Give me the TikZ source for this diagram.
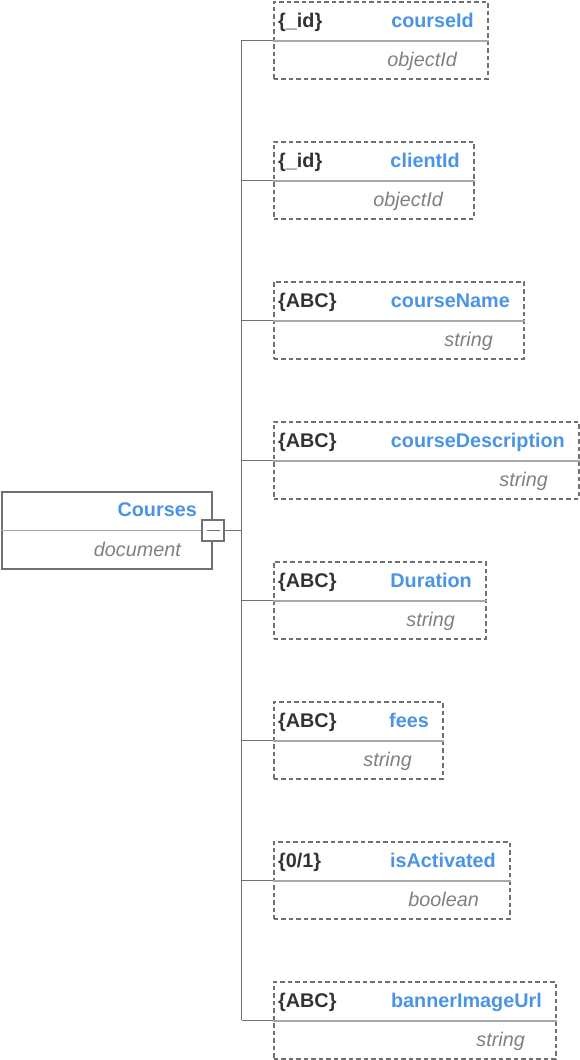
\documentclass[tikz,border=0pt]{standalone}
\usepackage{fontspec}
\setmainfont{Liberation Sans}
\definecolor{boxgray}{HTML}{707070}
\definecolor{divgray}{HTML}{A8A8A8}
\definecolor{namblue}{HTML}{4A94E6}
\definecolor{darktxt}{HTML}{333333}
\definecolor{typegray}{HTML}{808080}
\newcommand{\myzeroone}{\{0/1\}}
\tikzset{
  fieldbox/.style={draw=boxgray, line width=1.8pt, dash pattern=on 4.5pt off 3pt, anchor=north west, minimum height=77pt, inner sep=0pt},
  rootbox/.style={draw=boxgray, line width=1.8pt, anchor=north west, minimum height=77pt, minimum width=210pt, inner sep=0pt},
  divline/.style={draw=divgray, line width=1.8pt},
  wire/.style={draw=boxgray, line width=1.8pt},
  tagtxt/.style={font=\fontsize{19.8}{23}\selectfont\bfseries, text=darktxt, anchor=base west, inner sep=0pt},
  nametxt/.style={font=\fontsize{19.8}{23}\selectfont\bfseries, text=namblue, anchor=base east, inner sep=0pt},
  typetxt/.style={font=\fontsize{19.8}{23}\selectfont\itshape, text=typegray, anchor=base east, inner sep=0pt},
}
\begin{document}
\begin{tikzpicture}[x=1pt,y=-1pt]
\useasboundingbox (0,0) rectangle (580,1060);
% root
\node[rootbox] (root) at (1,491) {};
\draw[divline] (root.west) -- (root.east);
\node[nametxt] (rootname) at (197,516) {Courses};
\node[typetxt] (roottype) at (181,556) {document};
\node[draw=boxgray, line width=1.8pt, fill=white, minimum width=22pt, minimum height=21pt, inner sep=0pt] (minus) at (213,530.5) {};
\draw[draw=boxgray, line width=1.8pt] ([xshift=-6.5pt]minus.center) -- ([xshift=6.5pt]minus.center);
% trunk
\coordinate (ttop) at (241.5,40);
\coordinate (tbot) at (241.5,1020);
\draw[wire] (ttop) -- (tbot);
\draw[wire] (minus.east) -- (minus.east -| ttop);
% fields
\foreach \i/\nm/\tg/\ty/\r in {
  0/courseId/\{\_id\}/objectId/487,
  1/clientId/\{\_id\}/objectId/473,
  2/courseName/\{ABC\}/string/523,
  3/courseDescription/\{ABC\}/string/578,
  4/Duration/\{ABC\}/string/485,
  5/fees/\{ABC\}/string/442,
  6/isActivated/\myzeroone/boolean/509,
  7/bannerImageUrl/\{ABC\}/string/555}{
  \pgfmathsetmacro{\top}{1+140*\i}
  \pgfmathsetmacro{\w}{\r-273}
  \node[fieldbox, minimum width=\w pt] (f\i) at (273,\top) {};
  \draw[divline] ([yshift=-0.5pt]f\i.west) -- ([yshift=-0.5pt]f\i.east);
  \draw[wire] (f\i.west -| ttop) -- (f\i.west);
  \node[tagtxt] (t\i) at (278,\top+26.5) {\tg};
  \node[nametxt] (n\i) at (\r-13,\top+26.5) {\nm};
  \node[typetxt] (y\i) at (\r-30,\top+65) {\ty};
}
\end{tikzpicture}
\end{document}
